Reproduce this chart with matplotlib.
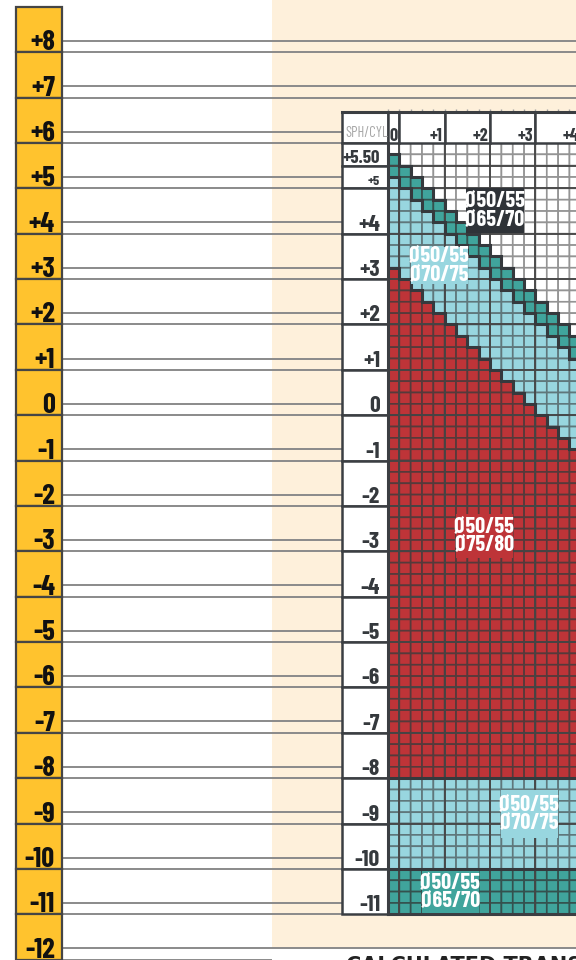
import numpy as np
import matplotlib
matplotlib.use("Agg")
import matplotlib.pyplot as plt
from matplotlib.patches import Rectangle
from matplotlib.colors import ListedColormap

# ---- data -------------------------------------------------------------
cyl = [0.00, 0.25, 0.50, 0.75, 1.00, 1.25, 1.50, 1.75, 2.00, 2.25, 2.50,
       2.75, 3.00, 3.25, 3.50, 3.75, 4.00]
sph = np.arange(5.75, -11.01, -0.25)          # one row per 0.25 D

# highest sphere value of each band, per cylinder column
teal_top = [5.50, 5.25, 5.00, 4.75, 4.50, 4.25, 4.00, 3.75, 3.50, 3.25,
            3.00, 2.75, 2.50, 2.25, 2.00, 1.75, 1.50]
blue_top = [5.00, 4.75, 4.50, 4.25, 4.00, 3.75, 3.50, 3.25, 3.00, 2.75,
            2.50, 2.25, 2.00, 1.75, 1.50, 1.25, 1.00]
red_top = [3.00, 2.75, 2.50, 2.25, 2.00, 1.75, 1.50, 1.25, 1.00, 0.75,
           0.50, 0.25, 0.00, -0.25, -0.50, -0.75, -1.00]
red_bottom = -8.00
blue_bottom = -10.00

row_labels = ['+5.50', '+5', '+4', '+3', '+2', '+1', '0', '-1', '-2', '-3',
              '-4', '-5', '-6', '-7', '-8', '-9', '-10', '-11']
row_values = [5.50, 5.00, 4, 3, 2, 1, 0, -1, -2, -3, -4, -5, -6, -7, -8,
              -9, -10, -11]
col_labels = ['0', '+1', '+2', '+3', '+4']
col_values = [0, 1, 2, 3, 4]
side_labels = ['+8', '+7', '+6', '+5', '+4', '+3', '+2', '+1', '0', '-1',
               '-2', '-3', '-4', '-5', '-6', '-7', '-8', '-9', '-10', '-11',
               '-12']
side_values = [8, 7, 6, 5, 4, 3, 2, 1, 0, -1, -2, -3, -4, -5, -6, -7, -8,
               -9, -10, -11, -12]
zone_labels = ['Ø50/55\nØ65/70', 'Ø50/55\nØ70/75', 'Ø50/55\nØ75/80',
               'Ø50/55\nØ70/75', 'Ø50/55\nØ65/70']

# ---- layout (pixel positions converted to diopter units) -------------
U = 45.37
def px_x(p):
    return -0.125 + (p - 388) / U
def px_y(p):
    return 5.875 - (p - 143) / U

CREAM = '#FEF0DB'
YELLOW = '#FFC32E'
TEAL = '#40A49C'
BLUE = '#98D6DF'
RED = '#BE3438'
DARK = '#2F3338'
LINE = '#3B3E42'
cond = ['Barlow Condensed', 'DejaVu Sans']

fig = plt.figure(figsize=(5.76, 9.6), dpi=100)
ax = fig.add_axes([0, 0, 1, 1])
ax.set_xlim(px_x(0), px_x(576))
ax.set_ylim(px_y(960), px_y(0))
ax.axis('off')
xmax = px_x(576)

# cream panel
ax.add_patch(Rectangle((px_x(272), -11.875), xmax - px_x(272),
                       px_y(0) + 11.875, fc=CREAM, ec='none', zorder=0))

# yellow sphere column + guide lines
yx0, yx1 = px_x(16), px_x(62)
for lab, v in zip(side_labels, side_values):
    ax.add_patch(Rectangle((yx0, v - 0.125), yx1 - yx0, 1.0, fc=YELLOW,
                           ec='#454545', lw=1.6, zorder=3))
    ax.text(yx1 - 7 / U, v - 0.125 + 2 / U, lab, ha='right', va='baseline',
            fontsize=20.5, fontweight='bold', color='#111111', family=cond,
            stretch='condensed', zorder=4)
    ax.hlines(v + 0.125, yx1, xmax, color='#8A8A8A', lw=1.4, zorder=1)
    right = px_x(272) if v == side_values[-1] else xmax
    ax.hlines(v - 0.125, yx1, right, color='#8A8A8A', lw=1.4, zorder=1)

# grid cells
cls = np.zeros((len(sph), len(cyl)), dtype=int)
for c in range(len(cyl)):
    for r, s in enumerate(sph):
        if s > teal_top[c]:
            k = 0
        elif s > blue_top[c]:
            k = 1
        elif s > red_top[c]:
            k = 2
        elif s >= red_bottom:
            k = 3
        elif s >= blue_bottom:
            k = 2
        else:
            k = 1
        cls[r, c] = k

xe = np.append(np.array(cyl) - 0.125, cyl[-1] + 0.125)
ye = np.append(sph + 0.125, sph[-1] - 0.125)
fills = ['#FFFFFF', TEAL, BLUE, RED]
edges = ['#949494', '#34514E', '#5F777B', '#553a3b']
for k in range(4):
    data = np.ma.masked_where(cls != k, np.ones(cls.shape))
    ax.pcolor(xe, ye, data, cmap=ListedColormap([fills[k]]),
              edgecolors=edges[k], linewidth=1.2, zorder=2)

# diopter dividers inside grid
ax.vlines([0.125, 1.125, 2.125, 3.125], ye[-1], ye[0], color='#454545',
          lw=1.3, zorder=2.5)
box_bottoms = [v - 0.125 for v in row_values]
ax.hlines(box_bottoms[:-1], xe[0], xe[-1], color='#454545', lw=1.3,
          zorder=2.5)

# band outlines
for tops in (teal_top, blue_top, red_top):
    ax.stairs(np.array(tops) + 0.125, xe, baseline=None, color='#35393D',
              lw=2.2, zorder=5)
ax.hlines([red_bottom - 0.125, blue_bottom - 0.125], xe[0], xe[-1],
          color='#35393D', lw=2.2, zorder=5)

# header row and sphere label column
lx0 = px_x(342)
hy0, hy1 = 5.875, px_y(112)
ax.vlines(xe, hy1, hy1 + 3 / U, color='#A0A0A0', lw=1, zorder=3)
ax.add_patch(Rectangle((lx0, hy0), -0.125 - lx0, hy1 - hy0, fc='white',
                       ec=LINE, lw=1.8, zorder=6))
ax.text(lx0 + 3 / U, hy0 + 6 / U, 'SPH/CYL', ha='left', va='baseline',
        fontsize=10.5, color='#A8A8A8', family=cond, stretch='condensed',
        zorder=7)
left = -0.125
for lab, v in zip(col_labels, col_values):
    right = v + 0.125
    ax.add_patch(Rectangle((left, hy0), right - left, hy1 - hy0, fc='white',
                           ec=LINE, lw=1.8, zorder=6))
    ax.text(right - 2 / U, hy0 + 2 / U, lab, ha='right', va='baseline',
            fontsize=13, fontweight='bold', color='#35393D', family=cond,
            stretch='condensed', zorder=7)
    left = right

top = 5.875
for lab, v in zip(row_labels, row_values):
    bottom = v - 0.125
    ax.add_patch(Rectangle((lx0, bottom), -0.125 - lx0, top - bottom,
                           fc='white', ec=LINE, lw=1.8, zorder=6))
    fs = 13.5 if lab == '+5.50' else (10 if lab == '+5' else 17)
    ax.text(-0.125 - 8 / U, bottom + 3 / U, lab, ha='right', va='baseline',
            fontsize=fs, fontweight='bold', color='#35393D', family=cond,
            stretch='condensed', zorder=7)
    top = bottom

# outer border of grid
ax.plot([xe[0], xe[0]], [ye[-1], ye[0]], color=LINE, lw=2.2, zorder=6)
ax.plot([xe[0], xe[-1]], [ye[-1], ye[-1]], color=LINE, lw=2.2, zorder=6)
ax.plot([lx0, xe[-1]], [hy1, hy1], color=LINE, lw=2.2, zorder=6)

# zone labels
zone_boxes = [(466, 188, 524, 233), (411, 247, 468, 284), (456, 514, 513, 558),
              (501, 790, 558, 838), (422, 871, 479, 913)]
zone_colors = [DARK, BLUE, RED, BLUE, TEAL]
for lab, (x0, y0, x1, y1), fc in zip(zone_labels, zone_boxes, zone_colors):
    ax.add_patch(Rectangle((px_x(x0), px_y(y1)), px_x(x1) - px_x(x0),
                           px_y(y0) - px_y(y1), fc=fc, ec='none', zorder=8))
    ax.text((px_x(x0) + px_x(x1)) / 2, (px_y(y0) + px_y(y1)) / 2, lab,
            ha='center', va='center', fontsize=16, fontweight='bold',
            color='white', family=cond, stretch='condensed',
            linespacing=0.88, zorder=9)

ax.text(px_x(346), px_y(956), 'CALCULATED TRANSITIONS', ha='left', va='top',
        fontsize=15, fontweight='bold', color='#222222',
        family=['DejaVu Sans'], clip_on=False, zorder=9)

fig.savefig('out.png', dpi=100)
